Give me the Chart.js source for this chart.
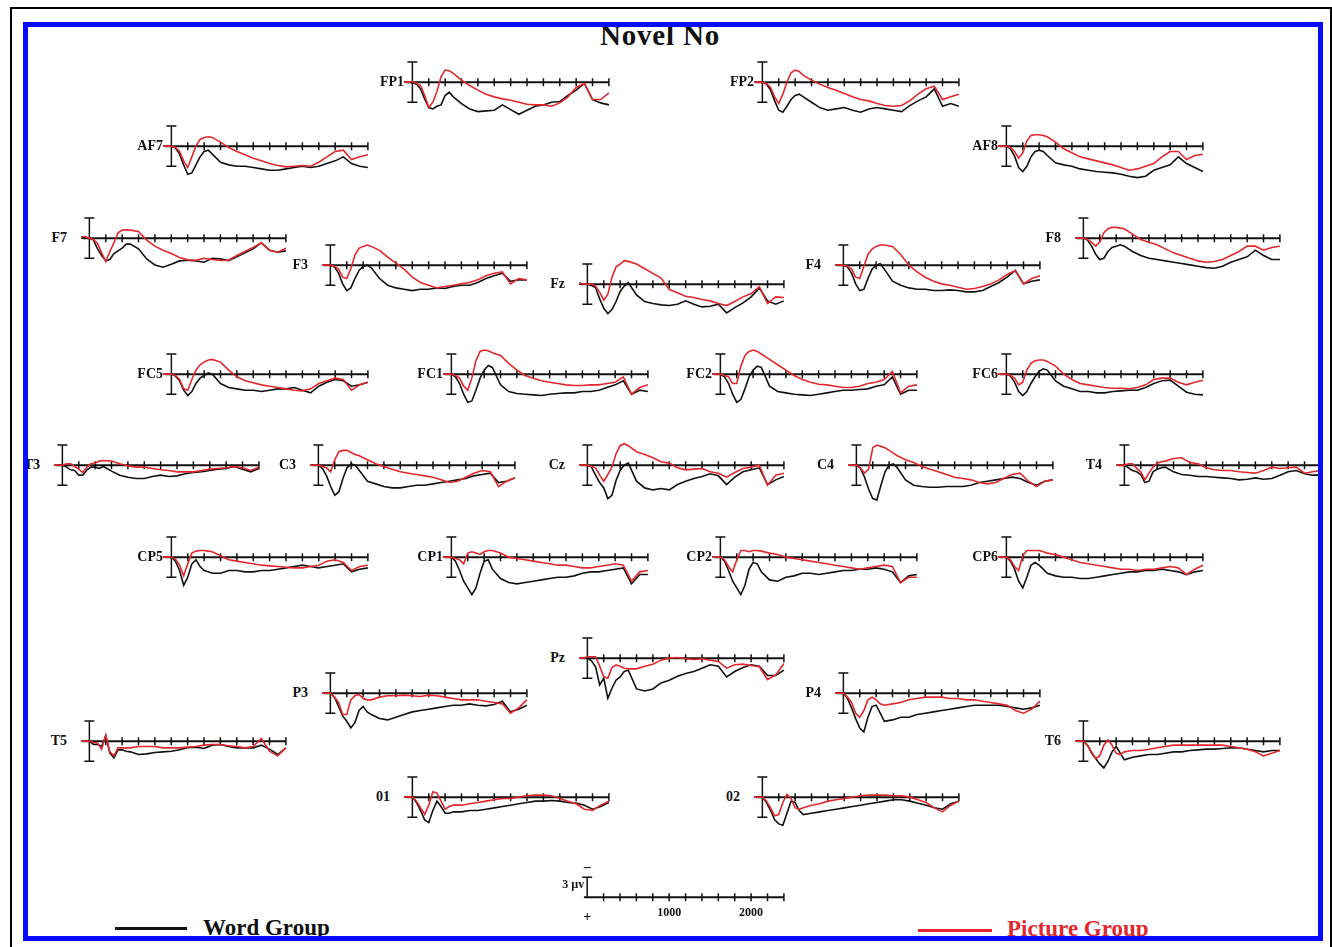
<!DOCTYPE html>
<html>
<head>
<meta charset="utf-8">
<script src="https://cdn.jsdelivr.net/npm/chart.js@4.4.1/dist/chart.umd.min.js"></script>
<style>
  body { margin: 0; background: #fff; width: 1332px; height: 947px; overflow: hidden; position: relative;
         font-family: "Liberation Serif", "Times New Roman", serif; }
  #outer { position: absolute; left: 10px; top: 7px; width: 1322px; height: 960px; border: 2px solid #000; box-sizing: border-box; }
  #blue { position: absolute; left: 23px; top: 22px; width: 1300px; height: 919px; border: 5px solid #0a0aff; box-sizing: border-box; z-index: 5; }
  #title { position: absolute; left: 0; width: 1320px; top: 21px; text-align: center; font-weight: bold; font-size: 29px; line-height: 29px; letter-spacing: 0.8px; color: #111; }
  .lbl { position: absolute; width: 60px; text-align: right; font-weight: bold; font-size: 14px; line-height: 16px; color: #111; }
  canvas { position: absolute; }
  .legline { position: absolute; height: 3px; }
  .legtxt { position: absolute; font-weight: bold; font-size: 23px; line-height: 23px; white-space: nowrap; }
</style>
</head>
<body>
<div id="outer"></div>
<div id="title">Novel No</div>
<div id="blue"></div>
<div class="legline" style="left:115px;top:927px;width:72px;background:#111"></div>
<div class="legtxt" style="left:203px;top:916px;color:#111">Word Group</div>
<div class="legline" style="left:918px;top:929px;width:74px;background:#e0282e"></div>
<div class="legtxt" style="left:1007px;top:917px;color:#e0282e">Picture Group</div>
<script>
// time points (ms) shared by every waveform
const times = [-100, -50, 0, 50, 100, 150, 200, 250, 300, 350, 400, 450, 500,
  600, 700, 800, 900, 1000, 1100, 1200, 1300, 1400, 1500, 1600, 1700, 1800, 1900, 2000, 2100, 2200, 2300, 2400];
const tickTimes = [0, 200, 400, 600, 800, 1000, 1200, 1400, 1600, 1800, 2000, 2200, 2400];
const scaleTickLabels = [1000, 2000];

// amplitudes in µV (positive plotted downward)
const wordFP1 = [0,0,0.1,0.3,1.0,2.5,3.8,4.0,3.6,3.4,2.0,1.5,2.2,3.2,4.0,4.4,4.3,4.2,3.4,4.1,4.8,4.2,3.6,3.4,3.0,2.9,2.0,1.2,0.2,2.6,3.1,3.4];
const picFP1  = [0,0,-0.1,0.2,0.5,2.0,3.8,3.0,1.4,-0.8,-1.8,-1.7,-1.3,-0.3,0.5,1.2,1.8,2.2,2.5,2.7,3.0,3.3,3.4,3.4,3.6,3.1,2.2,0.8,0.2,2.6,2.6,1.6];
const wordFP2 = [0,0,0,0.3,1.2,2.8,4.2,4.5,3.6,2.6,2.0,1.8,2.2,3.0,3.8,4.2,4.0,3.8,4.2,4.5,4.0,3.8,4.0,4.2,4.4,3.5,2.8,2.2,1.0,3.6,3.2,3.6];
const picFP2  = [0,0,0,0.2,0.8,2.2,3.2,1.8,0.0,-1.4,-1.8,-1.6,-1.0,-0.3,0.3,0.8,1.2,1.7,2.2,2.6,2.8,3.2,3.5,3.6,3.5,2.8,1.8,1.0,0.6,2.6,2.2,1.8];
const wordAF7 = [0,0,0,0.3,1.2,2.8,4.2,4.0,2.8,1.6,0.8,0.6,1.2,2.4,2.8,3.0,3.0,3.2,3.4,3.6,3.6,3.4,3.2,3.0,3.2,3.0,2.6,2.2,1.6,2.6,3.0,3.2];
const picAF7  = [0,0,0,0.2,0.8,2.2,3.2,1.6,0,-1.0,-1.3,-1.4,-1.3,-0.6,0.2,0.8,1.3,1.8,2.2,2.6,2.9,3.1,3.0,2.9,3.0,2.4,1.6,0.8,0.6,2.0,1.6,1.3];
const wordAF8 = [0,0,0,0.4,1.5,3.2,3.8,3.0,1.6,0.8,0.6,0.8,1.4,2.5,2.8,3.0,3.4,3.6,3.8,3.9,4.0,4.2,4.5,4.7,4.5,3.6,3.2,2.8,1.6,2.6,3.2,3.8];
const picAF8  = [0,0,0,0.2,0.8,1.8,1.0,-0.8,-1.6,-1.7,-1.7,-1.6,-1.4,-0.6,0.4,1.0,1.6,1.9,2.2,2.5,2.8,3.2,3.6,3.4,3.0,2.6,1.6,0.8,0.8,2.0,1.4,1.2];
const wordF7  = [0,0,0,0.3,1.6,2.6,3.4,3.2,2.3,1.9,1.5,0.9,0.9,1.6,3.1,4.0,4.35,3.9,3.4,3.3,3.4,3.6,3.0,3.1,3.35,2.8,2.2,1.6,0.7,1.8,2.1,1.9];
const picF7   = [-0.2,-0.2,0,0.2,0.8,2.2,3.5,2.0,0.7,-0.8,-1.2,-1.25,-1.2,-1.0,0.3,1.2,1.8,2.3,2.9,3.25,3.3,3.0,3.2,3.35,3.3,2.6,2.0,1.4,0.7,1.8,2.1,1.5];
const wordF3  = [0,0,0,0.3,1.2,2.8,3.8,3.4,2.0,0.8,0.2,0,0.4,2.0,3.0,3.4,3.6,3.8,3.6,3.6,3.4,3.5,3.2,3.0,3.0,2.6,2.0,1.6,1.2,2.4,2.2,2.2];
const picF3   = [0,0,0,0.2,0.6,1.8,2.0,0.5,-1.5,-2.5,-2.8,-3.0,-2.8,-2.2,-1.2,-0.3,0.6,1.8,2.6,3.0,3.4,3.2,3.0,2.8,2.6,2.2,1.6,1.2,1.0,2.8,2.0,2.2];
const wordFz  = [0,0,0,0.2,0.5,2.2,3.6,4.4,3.8,2.6,1.1,0.3,-0.2,1.6,2.6,2.9,3.1,3.2,3.0,2.5,3.0,3.4,3.3,3.0,4.3,3.5,2.8,1.9,0.6,2.5,3.0,2.5];
const picFz   = [-0.2,0,0,0,0.3,1.2,2.4,1.5,-1.0,-2.6,-3.0,-3.5,-3.4,-3.0,-2.3,-1.6,-0.9,0.8,1.3,1.8,2.0,2.3,2.5,2.9,3.2,2.6,1.9,1.4,0.4,2.9,1.9,2.0];
const wordF4  = [0,0,0,0.3,1.2,2.8,3.8,3.6,2.0,0.6,0,-0.2,0.6,2.4,3.0,3.4,3.6,3.6,3.8,3.8,3.7,3.8,4.0,4.0,3.8,3.2,2.6,1.8,0.8,2.8,2.4,2.2];
const picF4   = [0,0,0,0.2,0.6,1.8,2.0,0.2,-1.6,-2.4,-2.8,-3.0,-3.0,-2.8,-1.6,0,1.0,1.8,2.4,2.8,3.0,3.3,3.6,3.5,3.2,2.8,2.2,1.4,0.8,2.8,2.0,1.6];
const wordF8  = [0,0,0,0.3,1.2,2.4,3.2,3.0,2.0,1.4,1.2,1.0,1.2,2.0,2.6,3.0,3.2,3.4,3.6,3.8,4.0,4.2,4.4,4.5,4.2,3.6,3.2,2.8,1.8,2.6,3.2,3.2];
const picF8   = [0,0,0,0.2,0.6,1.2,0.6,-0.8,-1.4,-1.6,-1.6,-1.5,-1.4,-0.6,0.2,0.6,1.0,1.6,2.2,2.6,3.0,3.4,3.6,3.5,3.2,2.6,2.0,1.2,1.2,1.8,1.4,1.2];
const wordFC5 = [0,0,0,0.3,1.0,2.4,3.2,2.6,1.4,0.6,0.2,-0.2,0,1.4,2.0,2.2,2.4,2.4,2.6,2.4,2.2,2.2,2.0,2.4,2.8,1.8,1.2,0.8,1.0,1.8,1.6,1.2];
const picFC5  = [0,0,0,0.2,0.8,2.2,2.4,0.8,-0.6,-1.4,-1.8,-2.1,-2.2,-1.8,-0.6,0.4,1.0,1.3,1.6,1.8,2.0,2.2,2.4,2.5,2.2,1.4,1.0,0.6,0.8,2.4,1.6,1.2];
const wordFC1 = [0,0,0,0.4,1.4,3.0,4.2,4.0,2.4,0.6,-0.6,-1.3,-1.0,1.6,2.6,2.9,3.0,3.1,3.2,3.0,2.9,2.8,2.8,2.6,2.6,2.4,2.0,1.6,1.0,3.0,2.4,2.6];
const picFC1  = [0,0,0,0.2,0.6,1.8,2.4,0.6,-2.0,-3.4,-3.6,-3.5,-3.2,-2.8,-1.6,-0.6,0.2,0.6,1.0,1.2,1.4,1.6,1.7,1.7,1.6,1.6,1.4,1.2,0.4,3.0,2.0,1.6];
const wordFC2 = [0,0,0,0.4,1.4,3.0,4.2,3.8,2.2,0.4,-0.6,-1.2,-1.0,1.8,2.6,2.8,3.0,3.1,3.2,3.0,2.8,2.6,2.4,2.4,2.3,2.2,1.8,1.6,0.4,3.0,2.4,2.4];
const picFC2  = [0,0,0,0.2,0.4,1.4,1.4,-1.2,-2.8,-3.4,-3.6,-3.4,-3.0,-2.2,-1.4,-0.6,0.2,0.8,1.2,1.5,1.6,1.8,2.0,2.0,1.8,1.4,1.2,0.8,-0.4,2.8,1.8,1.6];
const wordFC6 = [0,0,0,0.3,1.2,2.6,3.2,2.6,1.4,0.4,-0.4,-0.8,-0.6,1.0,1.8,2.2,2.6,2.6,2.8,2.8,2.6,2.5,2.4,2.4,2.0,1.4,1.0,0.9,1.8,2.7,3.0,3.1];
const picFC6  = [0,0,0,0.2,0.6,1.6,1.2,-0.6,-1.6,-2.0,-2.1,-2.1,-1.9,-1.2,0,0.8,1.4,1.6,1.8,2.0,2.1,2.1,2.2,2.0,1.6,0.8,0.6,0.6,1.2,1.6,1.2,0.9];
const wordT3  = [0,0,0,0.3,0.7,0.8,1.5,1.5,0.7,0.3,0.3,0.5,0.2,0.9,1.5,1.8,2.0,2.0,1.7,1.5,1.7,1.6,1.3,1.1,1.0,0.8,0.6,0.5,0.2,0.6,1.0,0.5];
const picT3   = [0,0,0,-0.2,-0.2,0.2,0.6,1.1,0.3,-0.2,-0.3,-0.6,-0.7,-0.6,-0.2,0.1,0.3,0.3,0.5,0.7,0.8,1.0,1.0,1.0,0.8,0.6,0.5,0.4,0.2,0.4,0.8,0.3];
const wordC3  = [0,0,0,0.5,1.6,3.2,4.5,4.0,2.0,0.4,-0.2,0,0.8,2.4,2.8,3.2,3.4,3.4,3.2,3.0,3.0,2.8,2.6,2.4,2.2,2.0,1.6,1.4,1.2,2.6,2.4,1.9];
const picC3   = [0,0,0,0.2,0.4,1.0,-0.8,-2.0,-2.2,-2.2,-1.9,-1.6,-1.4,-0.8,-0.2,0.2,0.6,1.0,1.2,1.4,1.6,1.8,2.2,2.6,2.4,1.8,1.2,0.8,1.0,3.2,2.4,1.9];
const wordCz  = [0,0,0,0.3,1.5,2.6,3.4,5.0,4.5,2.3,0.8,0,-0.3,2.4,3.4,3.7,3.5,3.7,2.9,2.4,2.0,1.7,1.3,1.6,2.9,1.8,1.0,0.7,0.4,2.9,2.2,1.7];
const picCz   = [0,0,0,0.2,0.4,1.5,2.4,1.4,0.3,-1.7,-2.9,-3.2,-2.9,-2.0,-1.6,-1.1,-0.5,-0.3,0.4,0.7,0.6,0.5,1.0,1.2,1.8,1.1,0.5,0.3,0.0,3.0,1.5,1.2];
const wordC4  = [0,0,0,0.5,1.8,3.6,5.0,5.2,3.0,1.0,0,-0.2,0.4,2.2,3.0,3.2,3.3,3.3,3.2,3.2,3.2,3.0,2.6,2.4,2.2,2.0,1.8,2.0,2.6,3.0,2.4,2.2];
const picC4   = [0,0,0,0.4,1.2,0.6,-2.6,-3.0,-2.8,-2.6,-2.2,-1.8,-1.4,-0.8,-0.4,0.2,0.6,1.0,1.4,1.8,2.0,2.2,2.6,2.8,2.6,2.0,1.4,1.2,2.4,3.2,2.4,2.2];
const wordT4  = [0,0,0,0.4,0.8,1.0,1.4,2.6,2.4,1.0,0.6,0.4,0.3,1.0,1.4,1.5,1.7,1.7,1.8,1.9,2.0,2.2,2.1,1.9,2.1,2.0,1.5,1.0,0.8,1.3,1.5,1.5];
const picT4   = [0,0,0,-0.2,-0.2,0.5,1.0,2.2,1.2,0.3,-0.3,-0.5,-0.6,-1.0,-1.1,-0.4,-0.2,0.4,0.7,0.8,0.8,1.0,1.1,1.2,0.8,0.3,0.5,0.4,0.3,1.2,1.0,0.8];
const wordCP5 = [0,0,0,0.6,2.0,4.2,3.0,1.0,0.4,1.4,2.0,2.2,2.4,2.4,2.0,2.0,2.2,2.2,2.0,2.0,1.8,1.6,1.4,1.2,1.4,1.6,1.4,1.2,1.0,2.2,1.8,1.6];
const picCP5  = [0,0,0,0.3,1.2,2.8,1.0,-0.6,-0.9,-1.0,-1.0,-0.9,-0.8,-0.2,0.4,0.6,0.8,1.0,1.2,1.3,1.4,1.5,1.6,1.6,1.4,1.2,0.6,0.4,0.8,2.0,1.4,1.2];
const wordCP1 = [0,0,0,0.6,2.0,3.6,4.6,5.6,4.6,2.4,0.6,0.4,1.8,3.2,3.8,4.0,3.8,3.6,3.4,3.2,3.0,3.0,2.8,2.4,2.2,2.2,2.0,1.8,1.6,4.0,2.6,2.6];
const picCP1  = [0,0,0,0.2,0.4,1.0,-0.6,-0.8,-0.6,-0.4,-0.8,-1.0,-1.0,-0.6,0,0.2,0.4,0.6,0.8,1.0,1.2,1.2,1.4,1.6,1.6,1.4,1.2,1.0,1.2,3.6,2.2,2.0];
const wordCP2 = [0,0,0,0.6,2.0,3.6,4.6,5.6,4.2,1.8,0.8,1.0,2.2,3.4,3.6,3.0,2.8,2.4,2.4,2.6,2.4,2.2,2.0,2.0,1.8,1.8,1.6,1.8,2.2,3.8,2.8,2.6];
const picCP2  = [0,0,0,0.4,1.4,2.2,0.4,-1.0,-1.0,-0.8,-1.0,-1.0,-0.9,-0.6,-0.4,0,0.2,0.4,0.6,0.8,1.0,1.2,1.4,1.6,1.8,1.6,1.4,1.2,1.4,3.8,3.0,3.0];
const wordCP6 = [0,0,0,0.6,1.8,3.6,4.6,3.0,1.2,0.8,1.2,1.8,2.4,2.8,3.0,3.0,3.2,3.2,3.0,2.8,2.6,2.4,2.2,2.2,2.0,2.0,1.8,2.0,2.2,2.6,2.2,2.0];
const picCP6  = [0,0,0,0.4,1.4,2.0,-0.2,-1.0,-1.0,-1.0,-1.0,-0.8,-0.6,-0.4,0,0.4,0.8,1.0,1.2,1.4,1.6,1.8,1.8,2.0,1.8,1.8,1.6,1.4,1.6,2.6,1.8,1.2];
const wordPz  = [0,0,0,0.4,1.3,4.0,3.0,6.0,4.5,3.3,2.8,2.0,1.8,4.6,4.9,4.6,3.7,3.3,2.7,2.3,2.0,1.5,1.0,1.2,2.8,2.0,1.4,1.0,1.2,2.6,2.6,1.8];
const picPz   = [0,0,-0.2,-0.2,-0.2,1.2,2.8,3.0,1.4,1.0,1.2,1.5,1.6,1.6,1.2,0.9,0.3,0,-0.1,0.1,0.2,0.1,0.3,0.5,1.5,1.0,0.9,1.1,1.3,3.2,2.5,0.8];
const wordP3  = [0,0,0,0.6,2.0,3.4,4.2,5.2,4.4,2.6,2.0,2.8,3.2,3.8,4.0,3.6,3.2,2.8,2.6,2.4,2.2,2.0,1.8,1.8,1.6,1.8,1.9,1.7,1.2,2.8,2.4,1.8];
const picP3   = [0,0,0,0.6,1.4,3.2,3.2,1.0,0.4,0.2,0.8,1.0,1.0,0.6,0.4,0.4,0.3,0.4,0.5,0.3,0.4,0.6,0.8,1.0,1.0,1.0,1.2,1.4,1.6,3.0,2.2,1.0];
const wordP4  = [0,0,0,0.8,2.2,3.8,5.2,5.8,3.6,2.0,1.8,3.0,4.2,4.0,3.6,3.6,3.2,3.0,2.8,2.6,2.4,2.2,2.0,1.8,1.8,1.8,1.8,2.0,2.2,2.4,2.2,1.8];
const picP4   = [0,0,0,0.6,1.4,3.0,3.6,2.6,1.0,0.6,1.0,1.6,1.8,1.6,1.4,1.0,0.8,0.6,0.6,0.6,0.8,0.8,1.0,1.0,1.2,1.4,1.6,1.8,2.6,3.0,2.4,1.2];
const wordT5  = [0,0,0,0.5,0.5,0.8,-0.8,1.8,2.5,1.3,1.3,1.5,1.6,2.0,1.9,1.7,1.6,1.5,1.3,1.0,0.9,1.1,0.6,0.5,0.8,1.0,1.0,1.0,0.6,1.2,2.0,1.0];
const picT5   = [0,0,0,0.2,0.3,1.2,-0.9,1.6,2.2,1.0,1.0,1.0,1.0,0.8,0.8,0.8,1.0,1.0,1.0,0.9,0.8,0.6,0.5,0.5,0.7,0.8,1.0,0.8,-0.4,1.5,2.2,1.0];
const wordT6  = [0,0,0,0.6,1.8,2.6,3.4,4.0,3.0,1.6,0.8,1.8,2.8,2.4,2.2,2.0,2.0,1.8,1.6,1.6,1.4,1.3,1.2,1.2,1.1,1.0,1.0,1.2,1.4,1.6,1.4,1.4];
const picT6   = [0,0,0,0.6,1.6,2.6,2.2,0.6,-0.2,0.6,1.8,2.0,1.6,1.4,1.4,1.2,1.0,0.8,0.6,0.6,0.6,0.6,0.6,0.6,0.6,0.8,1.0,1.2,1.6,2.2,1.8,1.4];
const wordO1  = [0,0,0,0.8,2.0,3.4,3.8,2.0,0.6,1.4,2.4,2.4,2.2,2.2,2.0,2.0,1.8,1.6,1.4,1.2,1.0,0.8,0.6,0.6,0.5,0.6,0.8,0.9,1.2,1.8,1.4,0.8];
const picO1   = [0,0,0,0.6,1.6,2.6,1.2,-0.8,-0.6,0.6,1.8,1.4,1.2,1.2,1.0,0.8,0.6,0.4,0.2,0.2,0.0,-0.2,-0.3,-0.3,-0.2,0.2,0.6,1.0,1.8,2.0,1.2,0.6];
const wordO2  = [0,0,0,0.8,2.0,3.4,4.0,4.2,2.4,0.6,0.8,2.0,2.6,2.4,2.2,2.0,1.8,1.6,1.4,1.2,1.0,0.8,0.6,0.4,0.4,0.6,0.9,1.2,1.6,1.8,1.0,0.6];
const picO2   = [0,0,0,0.6,1.6,2.8,2.6,0.8,-0.4,0.2,1.6,1.8,1.6,1.2,1.0,0.6,0.4,0.2,0,-0.2,-0.3,-0.3,-0.3,-0.2,-0.2,0,0.4,0.8,1.6,2.2,1.2,0.6];

// electrode name, word series, picture series, zero point on the page (x, y)
const layout = [
  ['FP1', wordFP1, picFP1, 412, 82], ['FP2', wordFP2, picFP2, 762, 82],
  ['AF7', wordAF7, picAF7, 171, 146], ['AF8', wordAF8, picAF8, 1006, 146],
  ['F7', wordF7, picF7, 89, 238], ['F3', wordF3, picF3, 330, 265], ['Fz', wordFz, picFz, 587, 284],
  ['F4', wordF4, picF4, 843, 265], ['F8', wordF8, picF8, 1083, 238],
  ['FC5', wordFC5, picFC5, 171, 374], ['FC1', wordFC1, picFC1, 451, 374],
  ['FC2', wordFC2, picFC2, 720, 374], ['FC6', wordFC6, picFC6, 1006, 374],
  ['T3', wordT3, picT3, 62, 465], ['C3', wordC3, picC3, 318, 465], ['Cz', wordCz, picCz, 587, 465],
  ['C4', wordC4, picC4, 856, 465], ['T4', wordT4, picT4, 1124, 465],
  ['CP5', wordCP5, picCP5, 171, 557], ['CP1', wordCP1, picCP1, 451, 557],
  ['CP2', wordCP2, picCP2, 720, 557], ['CP6', wordCP6, picCP6, 1006, 557],
  ['Pz', wordPz, picPz, 587, 658], ['P3', wordP3, picP3, 330, 693], ['P4', wordP4, picP4, 843, 693],
  ['T5', wordT5, picT5, 89, 741], ['T6', wordT6, picT6, 1083, 741],
  ['01', wordO1, picO1, 412, 797], ['02', wordO2, picO2, 762, 797]
];

const PX_PER_MS = 0.082;
const PX_PER_UV = 6.67;
const X_MIN = -200, X_MAX = 2450;
const Y_MIN = -4.5, Y_MAX = 7;
const BLACK = '#111111';
const RED = '#e0282e';

const axisPlugin = {
  id: 'eegAxis',
  beforeDatasetsDraw(chart, args, opts) {
    const { ctx, scales: { x, y } } = chart;
    const y0 = y.getPixelForValue(0);
    ctx.save();
    ctx.strokeStyle = BLACK;
    ctx.lineWidth = 2;
    ctx.beginPath();
    ctx.moveTo(x.getPixelForValue(opts.start), y0);
    ctx.lineTo(x.getPixelForValue(2400), y0);
    ctx.stroke();
    ctx.lineWidth = 1.5;
    ctx.beginPath();
    tickTimes.slice(1).forEach(t => {
      const px = x.getPixelForValue(t);
      ctx.moveTo(px, y0 - 4);
      ctx.lineTo(px, y0 + 4);
    });
    // amplitude bar at time zero
    const bx = x.getPixelForValue(0);
    const top = y.getPixelForValue(opts.barTop);
    const bottom = y.getPixelForValue(opts.barBottom);
    ctx.moveTo(bx, top);
    ctx.lineTo(bx, bottom);
    ctx.moveTo(bx - 5, top);
    ctx.lineTo(bx + 5, top);
    if (opts.barBottom > 0) {
      ctx.moveTo(bx - 5, bottom);
      ctx.lineTo(bx + 5, bottom);
    }
    ctx.stroke();
    if (opts.labels) {
      ctx.fillStyle = BLACK;
      ctx.font = 'bold 12px "Liberation Serif", serif';
      ctx.textAlign = 'center';
      ctx.textBaseline = 'middle';
      scaleTickLabels.forEach(t => ctx.fillText(String(t), x.getPixelForValue(t), y0 + 16));
      ctx.font = 'bold 14px "Liberation Serif", serif';
      ctx.fillText('+', bx, y0 + 20);
      ctx.fillText('\u2013', bx, top - 10);
      ctx.font = 'bold 12px "Liberation Serif", serif';
      ctx.textAlign = 'right';
      ctx.fillText('3 \u00b5v', bx - 3, y0 - 12);
    }
    ctx.restore();
  }
};

const makeChart = (zeroX, zeroY, datasets, axisOpts, xMin, yMin, yMax) => {
  const canvas = document.createElement('canvas');
  const w = Math.round((X_MAX - xMin) * PX_PER_MS);
  const h = Math.round((yMax - yMin) * PX_PER_UV);
  canvas.width = w;
  canvas.height = h;
  canvas.style.left = (zeroX + xMin * PX_PER_MS) + 'px';
  canvas.style.top = (zeroY + yMin * PX_PER_UV) + 'px';
  document.body.appendChild(canvas);
  return new Chart(canvas, {
    type: 'line',
    data: { datasets },
    options: {
      responsive: false,
      animation: false,
      events: [],
      layout: { padding: 0 },
      scales: {
        x: { type: 'linear', min: xMin, max: X_MAX, display: false },
        y: { min: yMin, max: yMax, reverse: true, display: false }
      },
      plugins: { legend: { display: false }, tooltip: { enabled: false }, eegAxis: axisOpts }
    },
    plugins: [axisPlugin]
  });
};

const series = (values, color) => ({
  data: times.map((t, i) => ({ x: t, y: values[i] })),
  borderColor: color,
  borderWidth: 1.6,
  pointRadius: 0,
  tension: 0,
  fill: false
});

layout.forEach(([name, word, pic, zx, zy]) => {
  makeChart(zx, zy, [series(pic, RED), series(word, BLACK)],
    { start: -80, barTop: -3, barBottom: 3 }, X_MIN, Y_MIN, Y_MAX);
  const lbl = document.createElement('div');
  lbl.className = 'lbl';
  lbl.textContent = name;
  const gap = name.length > 2 ? 8 : 22;
  lbl.style.left = (zx - gap - 60) + 'px';
  lbl.style.top = (zy - 8) + 'px';
  document.body.appendChild(lbl);
});

// calibration scale at the bottom
makeChart(587, 897, [], { start: -40, barTop: -3, barBottom: 0, labels: true }, -600, -5, 4);
</script>
</body>
</html>
